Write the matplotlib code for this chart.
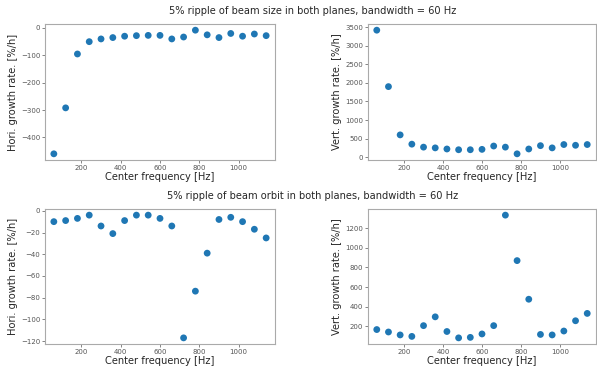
import matplotlib

matplotlib.use("Agg")

import matplotlib.pyplot as plt  # noqa: E402

# center frequencies of the ripple bands [Hz]
freq = [60, 120, 180, 240, 300, 360, 420, 480, 540, 600,
        660, 720, 780, 840, 900, 960, 1020, 1080, 1140]

# beam size ripple
size_hori = [-460, -292, -95, -50, -40, -35, -30, -28, -27, -27,
             -40, -33, -8, -25, -35, -20, -30, -22, -28]
size_vert = [3420, 1900, 600, 350, 270, 250, 220, 200, 200, 210,
             300, 270, 90, 220, 310, 250, 340, 320, 340]

# beam orbit ripple
orbit_hori = [-10, -9, -7, -4, -14, -21, -9, -4, -4, -7,
              -14, -117, -74, -39, -8, -6, -10, -17, -25]
orbit_vert = [165, 140, 110, 95, 205, 295, 145, 80, 85, 120,
              205, 1335, 870, 475, 115, 110, 150, 255, 330]

titles = [
    "5% ripple of beam size in both planes, bandwidth = 60 Hz",
    "5% ripple of beam orbit in both planes, bandwidth = 60 Hz",
]

W, H = 597, 366
fig = plt.figure(figsize=(W / 100, H / 100), dpi=100)


def box(x0, y0, x1, y1):
    return [x0 / W, 1 - y1 / H, (x1 - x0) / W, (y1 - y0) / H]


panels = [
    (box(45, 24, 275, 160), size_hori, "Hori. growth rate. [%/h]", [-400, -300, -200, -100, 0]),
    (box(368, 24, 596, 160), size_vert, "Vert. growth rate. [%/h]", [0, 500, 1000, 1500, 2000, 2500, 3000, 3500]),
    (box(45, 209, 275, 344), orbit_hori, "Hori. growth rate. [%/h]", [-120, -100, -80, -60, -40, -20, 0]),
    (box(368, 209, 596, 344), orbit_vert, "Vert. growth rate. [%/h]", [200, 400, 600, 800, 1000, 1200]),
]

for rect, vals, ylabel, yt in panels:
    ax = fig.add_axes(rect)
    ax.scatter(freq, vals, s=24, color="#1f77b4", edgecolors="none", zorder=3)
    ax.set_xticks([200, 400, 600, 800, 1000])
    ax.set_yticks(yt)
    ax.set_xlim(15, 1185)
    ax.set_xlabel("Center frequency [Hz]", fontsize=7.1, color="#262626", labelpad=1)
    ax.set_ylabel(ylabel, fontsize=7.1, color="#262626", labelpad=2)
    ax.tick_params(labelsize=5, colors="#555555", length=2, width=0.5, pad=1.5)
    for sp in ax.spines.values():
        sp.set_color("#aaaaaa")
        sp.set_linewidth(0.8)

fig.text(313 / W, 1 - 11 / H, titles[0], ha="center", va="center", fontsize=7.1, color="#262626")
fig.text(313 / W, 1 - 196 / H, titles[1], ha="center", va="center", fontsize=7.1, color="#262626")

fig.savefig("out.png", dpi=100)
